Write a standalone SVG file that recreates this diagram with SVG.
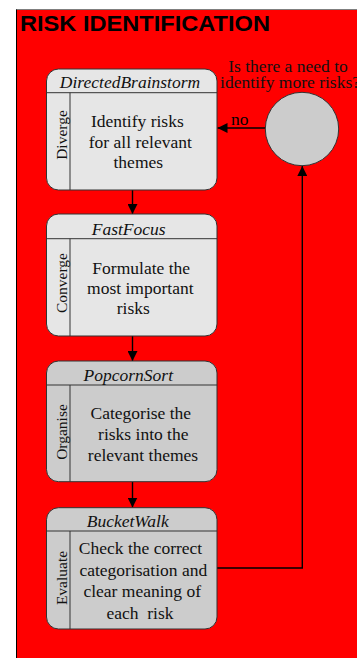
<svg xmlns="http://www.w3.org/2000/svg" width="357" height="658" viewBox="0 0 357 658">
  <defs>
    <marker id="arrow" viewBox="0 0 10 10" refX="10" refY="5" markerWidth="10" markerHeight="10" markerUnits="userSpaceOnUse" orient="auto">
      <path d="M0,0 L10,5 L0,10 Z" fill="#000"/>
    </marker>
    <style>
      .pool { fill: #ff0000; }
      .title { font-family: "Liberation Sans", Arial, sans-serif; font-weight: bold; font-size: 22.5px; fill: #000; }
      .box { stroke: #333; stroke-width: 1; }
      .light { fill: #e6e6e6; }
      .dark { fill: #cccccc; }
      .sep { stroke: #333; stroke-width: 1; fill: none; }
      .head { font-family: "Liberation Serif", "Times New Roman", serif; font-style: italic; font-size: 17.5px; fill: #111; text-anchor: middle; }
      .body { font-family: "Liberation Serif", "Times New Roman", serif; font-size: 17.5px; fill: #111; text-anchor: middle; }
      .side { font-family: "Liberation Serif", "Times New Roman", serif; font-size: 15.5px; fill: #111; text-anchor: middle; }
      .label { font-family: "Liberation Serif", "Times New Roman", serif; font-size: 17.5px; fill: #000; }
      .edge { stroke: #000; stroke-width: 1.4; fill: none; }
    </style>
  </defs>

  <!-- swimlane background -->
  <rect class="pool" x="16" y="9.5" width="345" height="652"/>
  <line x1="16" y1="9.5" x2="357" y2="9.5" stroke="#7f7f7f" stroke-width="1"/>
  <line x1="16.5" y1="9.5" x2="16.5" y2="658" stroke="#000" stroke-width="1"/>
  <text class="title" x="20" y="31" textLength="250" lengthAdjust="spacingAndGlyphs">RISK IDENTIFICATION</text>

  <!-- connectors -->
  <g id="connectors">
    <line class="edge" x1="132.5" y1="190" x2="132.5" y2="214" marker-end="url(#arrow)"/>
    <line class="edge" x1="132.5" y1="336" x2="132.5" y2="361" marker-end="url(#arrow)"/>
    <line class="edge" x1="132.5" y1="482" x2="132.5" y2="507.5" marker-end="url(#arrow)"/>
    <line class="edge" x1="265.5" y1="128" x2="217.5" y2="128" marker-end="url(#arrow)"/>
    <text class="label" x="231" y="125">no</text>
    <polyline class="edge" points="217,568 302.3,568 302.3,166" marker-end="url(#arrow)"/>
  </g>

  <!-- step 1 -->
  <g id="directed-brainstorm">
    <rect class="box light" x="46.5" y="69" width="170.5" height="121" rx="12" ry="12"/>
    <line class="sep" x1="46.5" y1="92.7" x2="217" y2="92.7"/>
    <line class="sep" x1="70" y1="92.7" x2="70" y2="190"/>
    <text class="head" x="130" y="88">DirectedBrainstorm</text>
    <text class="side" transform="translate(67,135) rotate(-90)">Diverge</text>
    <text class="body" x="137.3" y="127">Identify risks</text>
    <text class="body" x="140.3" y="148">for all relevant</text>
    <text class="body" x="138.3" y="168">themes</text>
  </g>

  <!-- step 2 -->
  <g id="fast-focus">
    <rect class="box light" x="46.5" y="214" width="170.5" height="122" rx="12" ry="12"/>
    <line class="sep" x1="46.5" y1="238.7" x2="217" y2="238.7"/>
    <line class="sep" x1="70" y1="238.7" x2="70" y2="336"/>
    <text class="head" x="128.7" y="235">FastFocus</text>
    <text class="side" transform="translate(67,283) rotate(-90)">Converge</text>
    <text class="body" x="141.2" y="274">Formulate the</text>
    <text class="body" x="140.3" y="294.3">most important</text>
    <text class="body" x="133.3" y="314.3">risks</text>
  </g>

  <!-- step 3 -->
  <g id="popcorn-sort">
    <rect class="box dark" x="46.5" y="361" width="170.5" height="120.7" rx="12" ry="12"/>
    <line class="sep" x1="46.5" y1="385" x2="217" y2="385"/>
    <line class="sep" x1="70" y1="385" x2="70" y2="481.7"/>
    <text class="head" x="128.3" y="381">PopcornSort</text>
    <text class="side" transform="translate(67,432) rotate(-90)">Organise</text>
    <text class="body" x="140.8" y="419.3">Categorise the</text>
    <text class="body" x="143.3" y="440">risks into the</text>
    <text class="body" x="143" y="461">relevant themes</text>
  </g>

  <!-- step 4 -->
  <g id="bucket-walk">
    <rect class="box dark" x="46.5" y="507.7" width="170.5" height="121.3" rx="12" ry="12"/>
    <line class="sep" x1="46.5" y1="531" x2="217" y2="531"/>
    <line class="sep" x1="70" y1="531" x2="70" y2="629"/>
    <text class="head" x="127.7" y="526.7">BucketWalk</text>
    <text class="side" transform="translate(67,578) rotate(-90)">Evaluate</text>
    <text class="body" x="140.5" y="554.3">Check the correct</text>
    <text class="body" x="143.3" y="575.7">categorisation and</text>
    <text class="body" x="142.2" y="596.7">clear meaning of</text>
    <text class="body" x="140" y="619" xml:space="preserve">each  risk</text>
  </g>

  <!-- decision -->
  <g id="decision">
    <circle class="box dark" cx="302" cy="129" r="36.7"/>
    <text class="body" x="288" y="72">Is there a need to</text>
    <text class="body" x="290" y="88">identify more risks?</text>
  </g>
</svg>
